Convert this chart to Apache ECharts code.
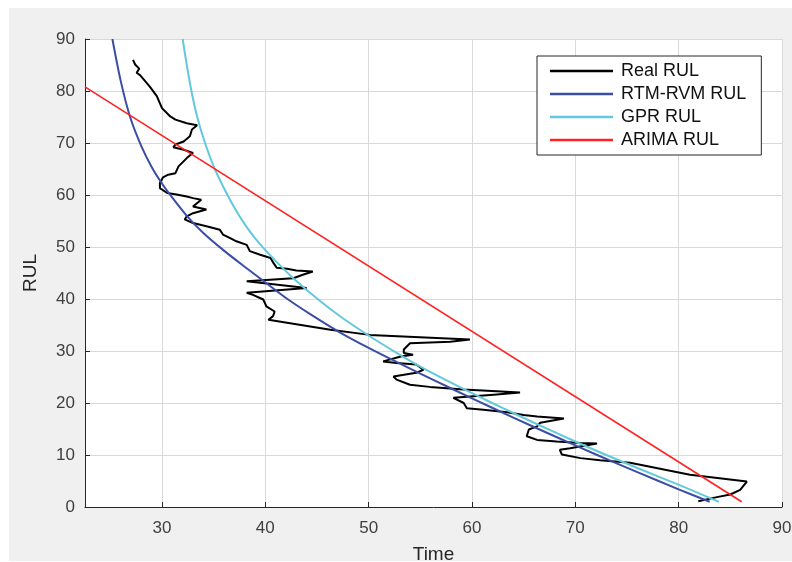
<!DOCTYPE html>
<html>
<head>
<meta charset="utf-8">
<script src="https://cdn.jsdelivr.net/npm/echarts@6/dist/echarts.min.js"></script>
<style>html,body{margin:0;padding:0;background:#fff;}#c{width:792px;height:562px;}</style>
</head>
<body>
<div id="c"></div>
<script>
// ---- data ----
var xTicks = [30, 40, 50, 60, 70, 80, 90];
var seriesNames = ['Real RUL', 'RTM-RVM RUL', 'GPR RUL', 'ARIMA RUL'];

var realT = [27.2,27.4,27.8,27.55,27.9,28.8,29.5,30.0,30.8,31.3,32.4,33.4,32.9,32.7,32.1,31.3,31.1,32.1,33.0,32.4,31.6,31.3,30.6,30.1,29.8,29.8,30.5,31.4,32.4,33.0,33.8,33.0,34.3,33.0,32.4,32.2,33.0,34.3,35.6,35.9,36.6,37.2,38.2,38.5,39.5,40.5,40.8,41.1,42.1,43.0,44.6,43.7,42.7,38.2,44.0,38.2,38.8,39.8,40.1,40.9,40.75,40.3,46.3,50.1,59.8,57.9,54.0,53.4,53.4,54.3,53.2,51.4,52.7,54.6,55.3,54.6,52.4,52.7,54.0,55.9,59.2,64.65,62.1,58.2,59.2,59.5,61.1,63.4,65.0,66.3,68.9,66.6,66.3,65.5,65.3,66.3,68.2,70.5,72.1,69.5,68.5,68.7,70.5,72.4,75.3,81.1,86.6,85.95,85.0,83.7,81.9];
var realV = [86.0,85.1,84.3,83.5,83.0,80.9,79.0,76.7,75.1,74.5,73.8,73.4,72.6,71.3,70.3,69.7,69.2,68.7,68.1,67.1,65.5,64.2,63.9,63.4,62.3,61.3,60.4,60.1,59.7,59.4,59.1,57.8,57.2,56.5,55.9,55.3,54.6,54.0,53.3,52.4,51.7,51.1,50.4,49.2,48.5,47.9,46.9,46.0,45.8,45.5,45.3,44.7,44.0,43.4,42.1,41.2,40.8,39.9,38.6,37.6,36.7,36.0,34.1,33.1,32.2,31.8,31.5,30.3,29.6,29.3,29.0,28.0,27.7,27.4,26.4,25.8,25.1,24.5,23.5,23.1,22.6,22.0,21.6,21.0,20.0,19.0,18.7,18.2,17.7,17.4,17.0,16.2,15.5,14.9,13.6,12.9,12.6,12.3,12.2,11.3,11.0,10.1,9.4,9.0,8.5,6.2,4.9,3.3,2.4,1.9,1.1];

var rtmT = [25.2,26.0,26.9,28.0,29.0,30.0,30.8,32.4,34.0,36.0,38.0,39.8,42.0,44.5,47.2,50.0,52.7,56.0,60.0,64.0,68.0,72.0,76.0,80.0,83.0];
var rtmV = [90,82.0,75.1,69.4,65.4,62.2,60.0,56.0,52.7,49.3,46.2,43.5,40.2,36.9,33.6,30.6,27.9,24.7,20.9,17.2,13.6,10.1,6.7,3.4,1.0];

var gprT = [32.0,32.4,32.85,33.35,34.0,35.0,36.0,37.0,38.0,39.0,40.0,41.3,42.7,45.3,47.5,50.45,52.5,54.65,57.5,60.5,63.0,66.0,70.1,73.0,76.0,80.1,83.9];
var gprV = [90,85,80,75.5,71.0,65.5,61.3,57.6,54.4,51.7,49.4,46.7,44.0,39.6,36.3,32.4,29.9,27.4,24.4,21.4,19.0,16.2,12.5,10.0,7.5,4.2,1.0];

var arimaT = [22.55, 86.1];
var arimaV = [80.8, 1.0];

function zip(a, b) { return a.map(function (v, i) { return [v, b[i]]; }); }

var FONT = 'Liberation Sans';
var axisCol = '#262626';
var labCol = '#404040';

var chart = echarts.init(document.getElementById('c'), null, {renderer: 'canvas'});
chart.setOption({
  backgroundColor: '#ffffff',
  animation: false,
  graphic: [{
    type: 'rect', z: -10, silent: true,
    shape: {x: 9, y: 8, width: 783, height: 553},
    style: {fill: '#f0f0f0'}
  }],
  grid: {left: 85, right: 10, top: 39, bottom: 55, show: true, backgroundColor: '#ffffff', borderWidth: 0,
         containLabel: false, outerBoundsMode: 'none'},
  legend: {
    orient: 'vertical', left: 537, top: 56,
    padding: [5, 15, 5, 13],
    icon: 'rect',
    itemWidth: 63, itemHeight: 2.5, itemGap: 3,
    backgroundColor: '#ffffff', borderColor: axisCol, borderWidth: 1,
    textStyle: {fontFamily: FONT, fontSize: 18, lineHeight: 20, color: '#111', padding: [0, 0, 0, 3]},
    data: seriesNames
  },
  xAxis: {
    type: 'value', min: 22.55, max: 90,
    name: 'Time', nameLocation: 'middle', nameGap: 38,
    nameTextStyle: {fontFamily: FONT, fontSize: 19, color: axisCol},
    axisLine: {show: true, onZero: false, lineStyle: {color: axisCol, width: 1}},
    axisTick: {show: true, inside: true, length: 5, customValues: xTicks, lineStyle: {color: axisCol}},
    axisLabel: {customValues: xTicks, fontFamily: FONT, fontSize: 17, color: labCol, margin: 13},
    splitLine: {show: true, lineStyle: {color: '#d9d9d9', width: 1}}
  },
  yAxis: {
    type: 'value', min: 0, max: 90, interval: 10,
    name: 'RUL', nameLocation: 'middle', nameGap: 45,
    nameTextStyle: {fontFamily: FONT, fontSize: 19, color: axisCol},
    axisLine: {show: true, onZero: false, lineStyle: {color: axisCol, width: 1}},
    axisTick: {show: true, inside: true, length: 5, lineStyle: {color: axisCol}},
    axisLabel: {fontFamily: FONT, fontSize: 17, color: labCol, margin: 10},
    splitLine: {show: true, lineStyle: {color: '#d9d9d9', width: 1}}
  },
  series: [
    {name: seriesNames[0], type: 'line', data: zip(realT, realV), symbol: 'none', color: '#000000',
     lineStyle: {width: 2, color: '#000000'}},
    {name: seriesNames[1], type: 'line', data: zip(rtmT, rtmV), symbol: 'none', smooth: 0.3, color: '#3a4ea6',
     lineStyle: {width: 2, color: '#3a4ea6'}},
    {name: seriesNames[2], type: 'line', data: zip(gprT, gprV), symbol: 'none', smooth: 0.3, color: '#62c9dc',
     lineStyle: {width: 2, color: '#62c9dc'}},
    {name: seriesNames[3], type: 'line', data: zip(arimaT, arimaV), symbol: 'none', color: '#ff2222',
     lineStyle: {width: 1.6, color: '#ff2222'}}
  ]
});
</script>
</body>
</html>
